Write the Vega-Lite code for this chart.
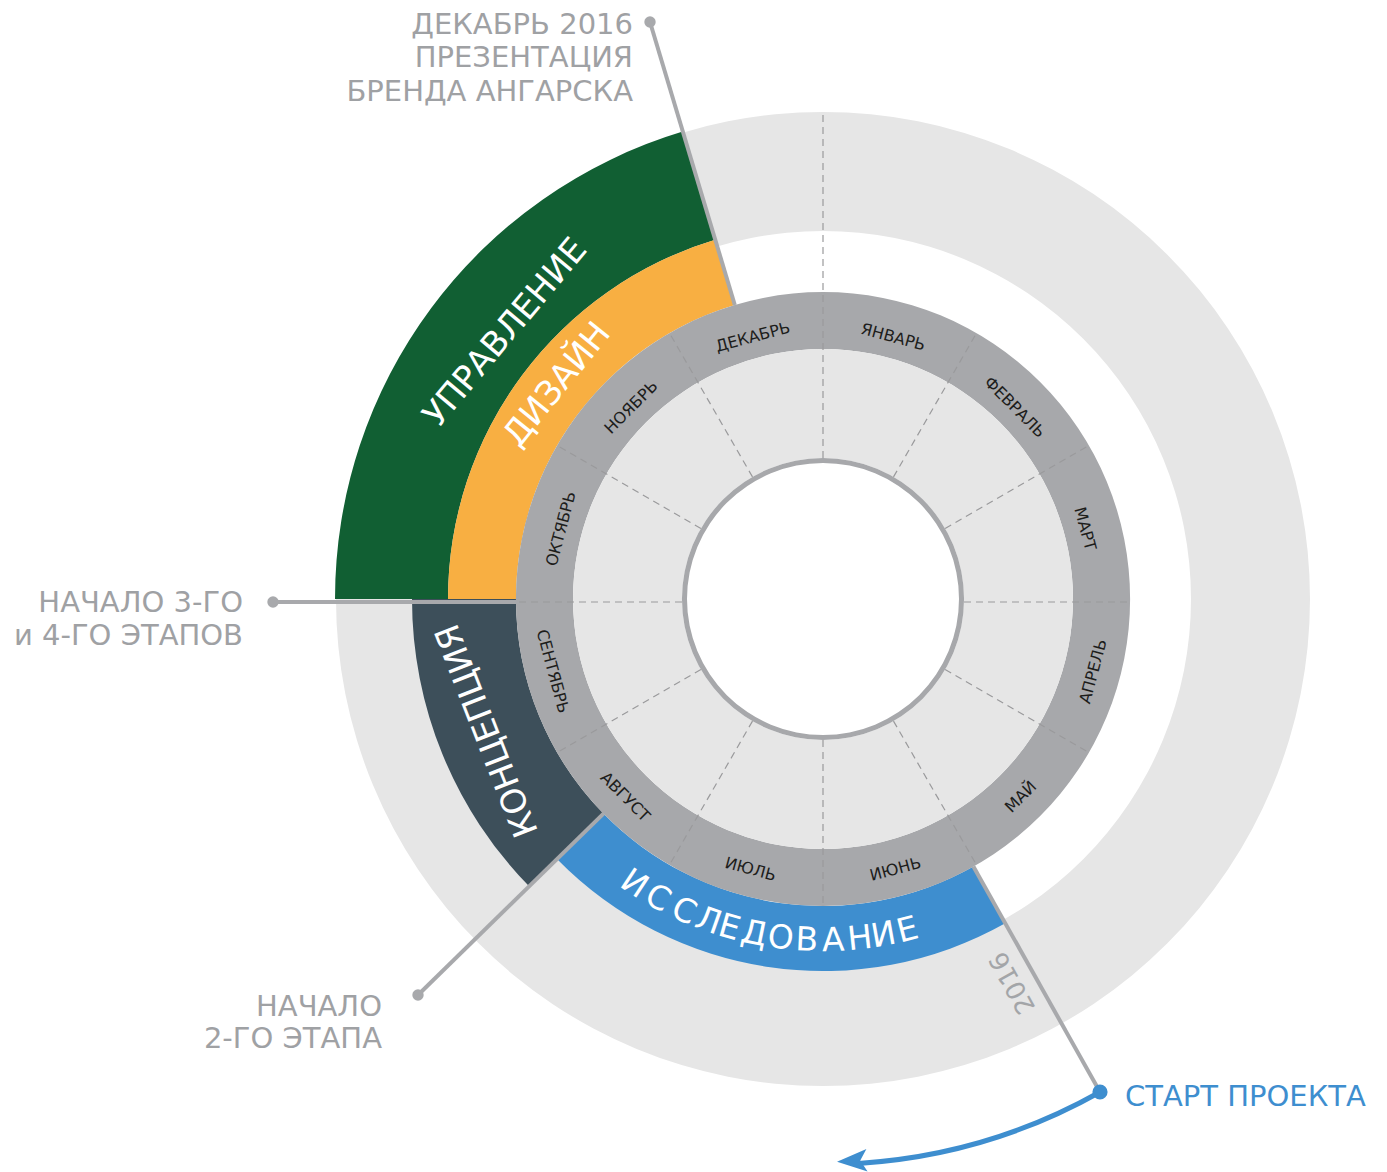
{
  "$schema": "https://vega.github.io/schema/vega-lite/v6.json",
  "width": 1128,
  "height": 1146,
  "autosize": {"type": "none"},
  "padding": {"left": 259, "top": 26, "right": 0, "bottom": 0},
  "background": "white",
  "config": {"view": {"stroke": null}, "text": {"font": "DejaVu Sans"}},
  "resolve": {"scale": {"angle": "independent"}},
  "layer": [
    {
      "data": {"values": [
        {"name": "ring2016", "m1": 0, "m2": 12, "r1": 368, "r2": 487},
        {"name": "Управление", "m1": 9, "m2": 11.443, "r1": 375, "r2": 488},
        {"name": "Дизайн", "m1": 9, "m2": 11.443, "r1": 307, "r2": 375},
        {"name": "Концепция", "m1": 7.52, "m2": 9, "r1": 307, "r2": 411},
        {"name": "Исследование", "m1": 5.022, "m2": 7.52, "r1": 307, "r2": 372},
        {"name": "months", "m1": 0, "m2": 12, "r1": 250, "r2": 307},
        {"name": "inner", "m1": 0, "m2": 12, "r1": 141, "r2": 250},
        {"name": "border", "m1": 0, "m2": 12, "r1": 136, "r2": 141},
        {"name": "arrow", "m1": 5.022, "m2": 5.88, "r1": 563, "r2": 568}
      ]},
      "mark": {"type": "arc"},
      "encoding": {
        "theta": {"field": "m1", "type": "quantitative", "scale": {"domain": [0, 12], "range": [0, 6.283185307179586], "nice": false, "zero": false}},
        "theta2": {"field": "m2"},
        "radius": {"field": "r2", "type": "quantitative", "scale": {"type": "linear", "domain": [0, 600], "range": [0, 600], "nice": false, "zero": true}},
        "radius2": {"field": "r1"},
        "color": {"field": "name", "type": "nominal", "legend": null, "scale": {
          "domain": ["ring2016", "Управление", "Дизайн", "Концепция", "Исследование", "months", "inner", "border", "arrow"],
          "range": ["#e6e6e6", "#115f33", "#f8af42", "#3d4f5a", "#3e8ecf", "#a7a8ab", "#e6e6e6", "#a7a8ab", "#3e8ecf"]}}
      }
    },
    {
      "data": {"values": [
        {"x": 0, "y": 141, "x2": 0, "y2": 488},
        {"x": 70.5, "y": 122.1, "x2": 153.5, "y2": 265.9},
        {"x": 122.1, "y": 70.5, "x2": 265.9, "y2": 153.5},
        {"x": 141, "y": -3, "x2": 307, "y2": -3},
        {"x": 122.1, "y": -70.5, "x2": 265.9, "y2": -153.5},
        {"x": 70.5, "y": -122.1, "x2": 153.5, "y2": -265.9},
        {"x": 0, "y": -141, "x2": 0, "y2": -307},
        {"x": -70.5, "y": -122.1, "x2": -153.5, "y2": -265.9},
        {"x": -122.1, "y": -70.5, "x2": -265.9, "y2": -153.5},
        {"x": -141, "y": -3, "x2": -307, "y2": -3},
        {"x": -122.1, "y": 70.5, "x2": -265.9, "y2": 153.5},
        {"x": -70.5, "y": 122.1, "x2": -153.5, "y2": 265.9}
      ]},
      "mark": {"type": "rule", "color": "#9a9a9c", "strokeWidth": 1.2, "strokeDash": [7, 5]},
      "encoding": {
        "x": {"field": "x", "type": "quantitative", "axis": null, "scale": {"domain": [-564, 564], "nice": false, "zero": false}},
        "y": {"field": "y", "type": "quantitative", "axis": null, "scale": {"domain": [-573, 573], "nice": false, "zero": false}},
        "x2": {"field": "x2"},
        "y2": {"field": "y2"}
      }
    },
    {
      "data": {"values": [
        {"x": -88.2, "y": 294.0, "x2": -173, "y2": 577},
        {"x": -307, "y": -3, "x2": -550, "y2": -3},
        {"x": -219.5, "y": -214.6, "x2": -405, "y2": -396},
        {"x": 150.4, "y": -267.6, "x2": 277, "y2": -493}
      ]},
      "mark": {"type": "rule", "color": "#a8a9ac", "strokeWidth": 4},
      "encoding": {
        "x": {"field": "x", "type": "quantitative", "axis": null},
        "y": {"field": "y", "type": "quantitative", "axis": null},
        "x2": {"field": "x2"},
        "y2": {"field": "y2"}
      }
    },
    {
      "data": {"values": [
        {"x": -173, "y": 577},
        {"x": -550, "y": -3},
        {"x": -405, "y": -396}
      ]},
      "mark": {"type": "point", "filled": true, "shape": "circle", "size": 130, "color": "#a8a9ac", "opacity": 1},
      "encoding": {
        "x": {"field": "x", "type": "quantitative", "axis": null},
        "y": {"field": "y", "type": "quantitative", "axis": null}
      }
    },
    {
      "data": {"values": [{"x": 277, "y": -493}]},
      "mark": {"type": "point", "filled": true, "shape": "circle", "size": 230, "color": "#3e8ecf", "opacity": 1},
      "encoding": {
        "x": {"field": "x", "type": "quantitative", "axis": null},
        "y": {"field": "y", "type": "quantitative", "axis": null}
      }
    },
    {
      "data": {"values": [{"x": 29, "y": -562}]},
      "mark": {"type": "point", "filled": true, "shape": "M-1,0L1,-0.75L0.55,0L1,0.75Z", "size": 900, "angle": -3, "color": "#3e8ecf", "opacity": 1},
      "encoding": {
        "x": {"field": "x", "type": "quantitative", "axis": null},
        "y": {"field": "y", "type": "quantitative", "axis": null}
      }
    },
    {
      "data": {"values": [
        {"label": "ОКТЯБРЬ", "m": 9.5},
        {"label": "НОЯБРЬ", "m": 10.5},
        {"label": "ДЕКАБРЬ", "m": 11.5},
        {"label": "ЯНВАРЬ", "m": 0.5},
        {"label": "ФЕВРАЛЬ", "m": 1.5},
        {"label": "МАРТ", "m": 2.5}
      ]},
      "mark": {"type": "text", "fontSize": 16, "color": "#1d1d1b", "align": "center", "baseline": "middle"},
      "encoding": {
        "theta": {"field": "m", "type": "quantitative", "stack": null},
        "radius": {"datum": 271, "type": "quantitative"},
        "angle": {"field": "m", "type": "quantitative", "scale": {"domain": [0, 12], "range": [0, 360], "nice": false, "zero": false}},
        "text": {"field": "label"}
      }
    },
    {
      "data": {"values": [
        {"label": "АПРЕЛЬ", "m": 3.5},
        {"label": "МАЙ", "m": 4.5},
        {"label": "ИЮНЬ", "m": 5.5},
        {"label": "ИЮЛЬ", "m": 6.5},
        {"label": "АВГУСТ", "m": 7.5},
        {"label": "СЕНТЯБРЬ", "m": 8.5}
      ]},
      "mark": {"type": "text", "fontSize": 16, "color": "#1d1d1b", "align": "center", "baseline": "middle"},
      "encoding": {
        "theta": {"field": "m", "type": "quantitative", "stack": null},
        "radius": {"datum": 280, "type": "quantitative"},
        "angle": {"field": "m", "type": "quantitative", "scale": {"domain": [3, 9], "range": [-90, 90], "nice": false, "zero": false}},
        "text": {"field": "label"}
      }
    },
    {
      "data": {"values": [
        {"letter": "И", "m": 7.117},
        {"letter": "С", "m": 6.963},
        {"letter": "С", "m": 6.8},
        {"letter": "Л", "m": 6.653},
        {"letter": "Е", "m": 6.53},
        {"letter": "Д", "m": 6.387},
        {"letter": "О", "m": 6.237},
        {"letter": "В", "m": 6.09},
        {"letter": "А", "m": 5.943},
        {"letter": "Н", "m": 5.793},
        {"letter": "И", "m": 5.66},
        {"letter": "Е", "m": 5.523}
      ]},
      "mark": {"type": "text", "fontSize": 33, "color": "white", "align": "center", "baseline": "middle"},
      "encoding": {
        "theta": {"field": "m", "type": "quantitative", "stack": null},
        "radius": {"datum": 342, "type": "quantitative"},
        "angle": {"field": "m", "type": "quantitative", "scale": {"domain": [3, 9], "range": [-90, 90], "nice": false, "zero": false}},
        "text": {"field": "letter"}
      }
    },
    {
      "data": {"values": [
        {"label": "УПРАВЛЕНИЕ", "m": 10.333, "radius": 414},
        {"label": "ДИЗАЙН", "m": 10.297, "radius": 341},
        {"label": "КОНЦЕПЦИЯ", "m": 8.287, "radius": 360}
      ]},
      "mark": {"type": "text", "fontSize": 34, "color": "white", "align": "center", "baseline": "middle"},
      "encoding": {
        "theta": {"field": "m", "type": "quantitative", "stack": null},
        "radius": {"field": "radius", "type": "quantitative"},
        "angle": {"field": "m", "type": "quantitative", "scale": {"domain": [0, 12], "range": [0, 360], "nice": false, "zero": false}},
        "text": {"field": "label"}
      }
    },
    {
      "data": {"values": [{"label": "2016", "m": 5.123}]},
      "mark": {"type": "text", "fontSize": 26, "color": "#a3a5a8", "align": "center", "baseline": "middle", "angle": 241},
      "encoding": {
        "theta": {"field": "m", "type": "quantitative", "stack": null},
        "radius": {"datum": 428, "type": "quantitative"},
        "text": {"field": "label"}
      }
    },
    {
      "data": {"values": [
        {"label": "ДЕКАБРЬ 2016", "x": -190, "y": 574},
        {"label": "ПРЕЗЕНТАЦИЯ", "x": -190, "y": 541},
        {"label": "БРЕНДА АНГАРСКА", "x": -190, "y": 507},
        {"label": "НАЧАЛО 3-ГО", "x": -580, "y": -4},
        {"label": "и 4-ГО ЭТАПОВ", "x": -580, "y": -37},
        {"label": "НАЧАЛО", "x": -441, "y": -408},
        {"label": "2-ГО ЭТАПА", "x": -441, "y": -440}
      ]},
      "mark": {"type": "text", "fontSize": 29, "color": "#9fa1a4", "align": "right", "baseline": "middle"},
      "encoding": {
        "x": {"field": "x", "type": "quantitative", "axis": null},
        "y": {"field": "y", "type": "quantitative", "axis": null},
        "text": {"field": "label"}
      }
    },
    {
      "data": {"values": [{"label": "СТАРТ ПРОЕКТА", "x": 302, "y": -498}]},
      "mark": {"type": "text", "fontSize": 29, "color": "#3e8ecf", "align": "left", "baseline": "middle"},
      "encoding": {
        "x": {"field": "x", "type": "quantitative", "axis": null},
        "y": {"field": "y", "type": "quantitative", "axis": null},
        "text": {"field": "label"}
      }
    }
  ]
}
